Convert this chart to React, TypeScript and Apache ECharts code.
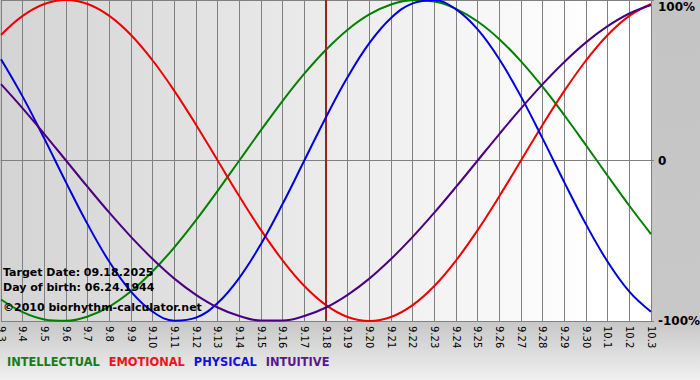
import React, { useEffect, useRef } from "react";
import * as echarts from "echarts";

const days = [
  "9.3", "9.4", "9.5", "9.6", "9.7", "9.8", "9.9", "9.10", "9.11", "9.12", "9.13",
  "9.14", "9.15", "9.16", "9.17", "9.18", "9.19", "9.20", "9.21", "9.22", "9.23",
  "9.24", "9.25", "9.26", "9.27", "9.28", "9.29", "9.30", "10.1", "10.2", "10.3",
];

const intellectual = [
  -86.6, -94.5, -99.0, -99.9, -97.2, -91.0, -81.5, -69.0, -54.1, -37.2, -18.9, 0,
  18.9, 37.2, 54.1, 69.0, 81.5, 91.0, 97.2, 99.9, 99.0, 94.5, 86.6, 75.6, 61.8,
  45.8, 28.2, 9.5, -9.5, -28.2, -45.8,
];
const emotional = [
  78.2, 90.1, 97.5, 100, 97.5, 90.1, 78.2, 62.3, 43.4, 22.3, 0, -22.3, -43.4,
  -62.3, -78.2, -90.1, -97.5, -100, -97.5, -90.1, -78.2, -62.3, -43.4, -22.3, 0,
  22.3, 43.4, 62.3, 78.2, 90.1, 97.5,
];
const physical = [
  63.1, 39.8, 13.6, -13.6, -39.8, -63.1, -81.7, -94.2, -99.8, -97.9, -88.8, -73.1,
  -52.0, -27.0, 0, 27.0, 52.0, 73.1, 88.8, 97.9, 99.8, 94.2, 81.7, 63.1, 39.8,
  13.6, -13.6, -39.8, -63.1, -81.7, -94.2,
];
const intuitive = [
  47.6, 32.5, 16.5, 0, -16.5, -32.5, -47.6, -61.4, -73.6, -83.7, -91.6, -96.9,
  -99.7, -99.7, -96.9, -91.6, -83.7, -73.6, -61.4, -47.6, -32.5, -16.5, 0, 16.5,
  32.5, 47.6, 61.4, 73.6, 83.7, 91.6, 96.9,
];

const seriesNames = ["INTELLECTUAL", "EMOTIONAL", "PHYSICAL", "INTUITIVE"];
const seriesColors = ["#008000", "#ee0000", "#0000dd", "#4b0082"];
const legendColors = ["#1a7a1a", "#ee1122", "#1111dd", "#55198b"];
const targetDay = "9.18";
const infoLines = [
  "Target Date: 09.18.2025",
  "Day of birth: 06.24.1944",
  "©2010 biorhythm-calculator.net",
];

export default function App() {
  const ref = useRef<HTMLDivElement>(null);

  useEffect(() => {
    document.body.style.margin = "0";
    if (!ref.current) return;
    const chart = echarts.init(ref.current, null, { renderer: "svg" });
    const values = [intellectual, emotional, physical, intuitive];
    const font = '"DejaVu Sans", Verdana, sans-serif';

    chart.setOption({
      animation: false,
      backgroundColor: new echarts.graphic.LinearGradient(0, 0, 0, 1, [
        { offset: 0, color: "#c4c4c4" },
        { offset: 0.85, color: "#c8c8c8" },
        { offset: 1, color: "#f0f0f0" },
      ]),
      grid: {
        left: 1,
        right: 49,
        top: 0,
        height: 321,
        outerBoundsMode: "none",
        containLabel: false,
        show: true,
        borderWidth: 0,
        backgroundColor: new echarts.graphic.LinearGradient(0, 0, 1, 0, [
          { offset: 0, color: "#d4d4d4" },
          { offset: 0.92, color: "#ffffff" },
          { offset: 1, color: "#ffffff" },
        ]),
      },
      legend: {
        left: -3,
        top: 351,
        icon: "rect",
        itemWidth: 0,
        itemHeight: 0,
        itemGap: 4,
        itemStyle: { opacity: 0 },
        lineStyle: { opacity: 0 },
        selectedMode: false,
        textStyle: { fontFamily: font, fontWeight: "bold", fontSize: 11.4 },
        data: seriesNames.map((n, i) => ({ name: n, textStyle: { color: legendColors[i] } })),
      },
      xAxis: {
        type: "category",
        boundaryGap: false,
        data: days,
        axisLine: { show: true, lineStyle: { color: "#808080", width: 1 } },
        axisTick: { show: true, length: 4, interval: 0, lineStyle: { color: "#808080" } },
        splitLine: { show: true, interval: 0, lineStyle: { color: "#808080", width: 1 } },
        axisLabel: {
          interval: 0,
          rotate: -90,
          margin: 5,
          color: "#000",
          fontFamily: font,
          fontSize: 10,
        },
      },
      yAxis: {
        type: "value",
        position: "right",
        min: -100,
        max: 100,
        interval: 100,
        axisLine: { show: true, lineStyle: { color: "#808080" } },
        axisTick: { show: true, length: 3, lineStyle: { color: "#808080" } },
        splitLine: { show: true, lineStyle: { color: "#808080", width: 1 } },
        axisLabel: {
          margin: 7,
          color: "#000",
          fontFamily: font,
          fontWeight: "bold",
          fontSize: 12,
          formatter: (v: number) => (v === 100 ? "{t|100%}" : v === 0 ? "0" : v + "%"),
          rich: {
            t: { padding: [14, 0, 0, 0], fontFamily: font, fontWeight: "bold", fontSize: 12, color: "#000" },
          },
        },
      },
      graphic: infoLines.map((t, i) => ({
        type: "text",
        left: 3,
        top: [267, 282, 302][i],
        z: 50,
        style: {
          text: t,
          fill: "#000",
          font: 'bold 11px "DejaVu Sans", Verdana, sans-serif',
        },
      })),
      series: seriesNames.map((n, i) => ({
        name: n,
        type: "line",
        data: values[i],
        smooth: 0.4,
        symbol: "none",
        lineStyle: { color: seriesColors[i], width: 2 },
        itemStyle: { color: seriesColors[i] },
        z: 3 + i,
        ...(i === 0
          ? {
              markLine: {
                silent: true,
                symbol: ["none", "none"],
                label: { show: false },
                lineStyle: { color: "#992222", width: 2, type: "solid" },
                data: [{ xAxis: targetDay }],
              },
            }
          : {}),
      })),
    });

    return () => chart.dispose();
  }, []);

  return <div ref={ref} style={{ width: 700, height: 380 }} />;
}
